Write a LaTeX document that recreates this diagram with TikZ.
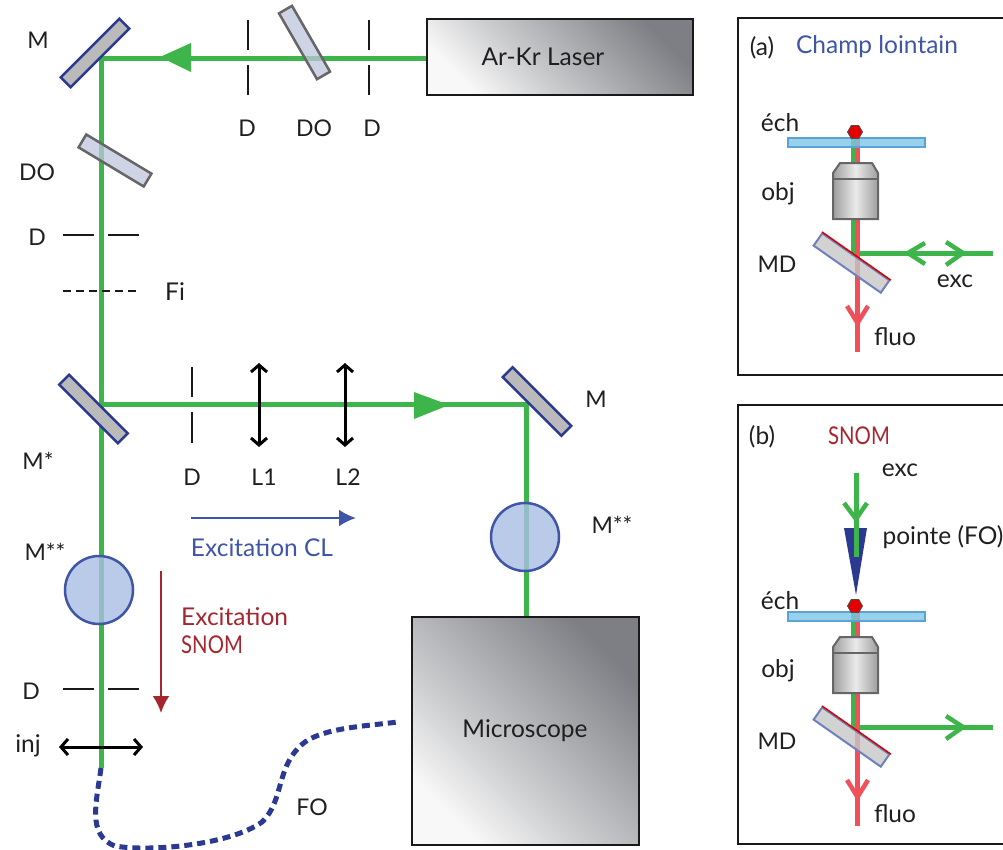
\documentclass[tikz,border=0pt]{standalone}
\usepackage{graphicx}
\usepackage{fontspec}
\setmainfont{Lato}
\usetikzlibrary{arrows.meta,calc,shapes.geometric}
\definecolor{beam}{HTML}{3DB54A}
\definecolor{redbeam}{HTML}{F0505A}
\definecolor{navy}{HTML}{2B3990}
\definecolor{blueT}{HTML}{3F55A5}
\definecolor{redT}{HTML}{A6262F}
\definecolor{circfill}{HTML}{A9BEE3}
\definecolor{platefill}{HTML}{7EC6E6}
\definecolor{plateedge}{HTML}{5BA3D6}
\definecolor{rampa}{HTML}{F8F8F8}
\definecolor{rampb}{HTML}{CBCCCE}
\definecolor{rampc}{HTML}{7E7F84}
\pgfdeclareverticalshading{boxramp}{100bp}{color(0bp)=(rampa); color(25bp)=(rampa); color(42bp)=(rampb); color(75bp)=(rampc); color(100bp)=(rampc)}
\tikzset{
 x=1pt,y=-1pt,
 lbl/.style={font=\fontsize{24.5}{28}\selectfont,text=black!88,inner sep=0pt},
 caps/.style={lbl,font=\fontsize{23}{28}\selectfont},
 greenbeam/.style={draw=beam,line width=5pt},
 rbeam/.style={draw=redbeam,line width=5pt},
 chev/.style={line width=4.5pt,line cap=butt,line join=miter},
 mirror/.style={draw=navy,line width=2.5pt,fill=black!27,minimum width=83pt,minimum height=14pt,inner sep=0pt},
 dichro/.style={draw=black!60,line width=2.5pt,fill=navy!30,fill opacity=.75,minimum width=76pt,minimum height=15pt,inner sep=0pt},
 diaph/.style={draw=black!90,line width=2.5pt},
 lens/.style={draw=black,line width=3pt,{Straight Barb[length=7pt,width=16pt]}-{Straight Barb[length=7pt,width=16pt]}},
 circ/.style={circle,draw=blueT,line width=2.5pt,fill=circfill,fill opacity=.8,minimum size=68pt,inner sep=0pt},
 panel/.style={draw=black!90,line width=2.5pt},
 graybox/.style={draw=black!90,line width=2.5pt,inner sep=0pt,shading=boxramp,shading angle=-45},
 stack/.pic={
  \coordinate (-gt) at (853,132);
  \coordinate (-gm) at (853,253);
  \coordinate (-gr) at (993,253);
  \coordinate (-rt) at (857.5,133);
  \coordinate (-rb) at (857.5,352);
  \draw[greenbeam] (-gt) -- (-gm) -- (-gr);
  \draw[rbeam] (-rt) -- (-rb);
  \draw[draw=redbeam,chev] (847,306) -- (857.5,323) -- (868,306);
  \node[draw=plateedge,line width=2pt,fill=platefill,fill opacity=.8,rectangle,minimum width=137pt,minimum height=9pt,inner sep=0pt] (-plate) at (856,142.5) {};
  \node[regular polygon,regular polygon sides=6,draw=black!70,line width=.8pt,fill=red!90!black,minimum size=15pt,inner sep=0pt] (-hex) at (855,132) {};
  \draw[draw=blueT!70,line width=1pt] (846,163.5) to[bend left=12] (866,163.5);
  \path[left color=black!38,right color=black!38,middle color=black!8,draw=black!60,line width=2pt]
    (833,219) -- (833,173) -- (840,163) -- (872,163) -- (878,173) -- (878,219) -- cycle;
  \draw[black!60,line width=2pt] (833,179) -- (878,179);
  \node[rotate=-35,draw=blueT!75,line width=2pt,fill=black!22,fill opacity=.8,minimum width=82pt,minimum height=15pt,inner sep=0pt] (-md) at (851.5,263) {};
  \draw[red!85!black,line width=1.5pt] (-md.north west) -- (-md.north east);
 },
}
\begin{document}
\begin{tikzpicture}
\useasboundingbox (0,0) rectangle (1003,849);
% beams
\coordinate (src) at (427,58);
\coordinate (c1) at (101,58);
\coordinate (c2) at (101,404);
\coordinate (fib) at (101,768);
\coordinate (c3) at (526,404);
\coordinate (mic) at (526,617);
\draw[greenbeam,line join=miter] (src) -- (c1) -- (fib);
\draw[greenbeam,line join=miter] (c2) -- (c3) -- (mic);
\path[fill=beam] (160,57) -- (191,43) -- (191,72) -- cycle;
\path[fill=beam] (449,405) -- (414,392) -- (414,419) -- cycle;
% mirrors
\node[mirror,rotate=45] (m1) at (95,53) {};
\node[mirror,rotate=-45] (m2) at (93.5,409) {};
\node[mirror,rotate=-45] (m3) at (537,401.5) {};
\node[dichro,rotate=-60] (do1) at (304.5,42.5) {};
\node[dichro,rotate=-31] (do2) at (115,160.5) {};
% diaphragms
\draw[diaph] (248,20) -- (248,50) (248,65) -- (248,95);
\draw[diaph] (369,20) -- (369,50) (369,65) -- (369,95);
\draw[diaph] (63,235) -- (94,235) (108,235) -- (139,235);
\draw[diaph,dash pattern=on 8pt off 5pt] (63,291) -- (139,291);
\draw[diaph] (192,367) -- (192,397) (192,412) -- (192,443);
\draw[diaph] (63,689) -- (94,689) (108,689) -- (139,689);
% lenses
\draw[lens] (259,363) -- (259,447);
\draw[lens] (345,363) -- (345,447);
\draw[lens] (59,747) -- (143,747);
% circles
\node[circ] (c4) at (525,537) {};
\node[circ] (c5) at (99,590) {};
% boxes
\node[graybox,minimum width=266pt,minimum height=76pt] (laser) at (560,57) {};
\node[graybox,minimum width=227pt,minimum height=228pt] (micro) at (525.5,731) {};
\node[lbl] at (543,57) {Ar-Kr Laser};
\node[lbl] at (525,731) {Microscope};
% fibre
\coordinate (fo) at (398,722);
\draw[navy,line width=5pt,dash pattern=on 8pt off 5pt]
 (fib) .. controls (97,800) and (86,835) .. (115,846)
 .. controls (150,852) and (230,845) .. (262,822)
 .. controls (285,800) and (275,765) .. (305,742)
 .. controls (325,728) and (365,726) .. (fo);
% indication arrows
\coordinate (cla) at (191,518); \coordinate (clb) at (356,518);
\draw[blueT,line width=2.5pt,-{Latex[length=17pt,width=17pt]}] (cla) -- (clb);
\coordinate (sna) at (161,571); \coordinate (snb) at (161,713);
\draw[redT,line width=2.5pt,-{Latex[length=17pt,width=17pt]}] (sna) -- (snb);
% labels
\node[caps] at (38,40) {M};
\node[caps] at (247,128) {D};
\node[caps] at (314,128) {DO};
\node[caps] at (372,128) {D};
\node[caps] at (37,172) {DO};
\node[caps] at (37,237) {D};
\node[lbl] at (175,292) {Fi};
\node[caps] at (38,461) {M*};
\node[caps] at (192,477) {D};
\node[caps] at (264,477) {L1};
\node[caps] at (348,477) {L2};
\node[caps] at (596,399) {M};
\node[caps] at (612,525) {M**};
\node[caps] at (45,552) {M**};
\node[lbl,text=blueT] at (262,548) {Excitation CL};
\node[lbl,text=redT,anchor=west] at (181,617) {Excitation};
\node[lbl,text=redT,anchor=west] at (181,645) {\scalebox{.83}[1]{SNOM}};
\node[caps] at (31,691) {D};
\node[lbl] at (28,746) {inj};
\node[caps] at (312,807) {FO};
% panel a
\draw[panel] (1003,18) -- (738,18) -- (738,375) -- (1003,375);
\pic (pa) at (0,0) {stack};
\draw[beam,chev] (925,243) -- (908,253) -- (925,264);
\draw[beam,chev] (946,242) -- (963,253) -- (946,265);
\node[lbl] at (762,48) {(a)};
\node[lbl,text=blueT] at (877,47) {Champ lointain};
\node[lbl] at (780,123) {éch};
\node[lbl] at (778,194) {obj};
\node[caps] at (777,264) {MD};
\node[lbl] at (955,281) {exc};
\node[lbl] at (895,337) {fluo};
% panel b
\draw[panel] (1003,405) -- (738,405) -- (738,844) -- (1003,844);
\pic (pb) at (0,474) {stack};
\draw[beam,chev] (946,716) -- (963,727) -- (946,739);
\path[fill=navy] (844,528) -- (867,528) -- (856,595) -- cycle;
\coordinate (ea) at (856,473); \coordinate (eb) at (856,557);
\draw[greenbeam] (ea) -- (eb);
\draw[beam,chev] (844,503) -- (856,519) -- (867,503);
\node[lbl] at (762,437) {(b)};
\node[lbl,text=redT] at (859,436) {\scalebox{.83}[1]{SNOM}};
\node[lbl] at (900,470) {exc};
\node[lbl] at (943,537) {pointe (FO)};
\node[lbl] at (780,601) {éch};
\node[lbl] at (778,671) {obj};
\node[caps] at (777,741) {MD};
\node[lbl] at (895,814) {fluo};
\end{tikzpicture}
\end{document}
